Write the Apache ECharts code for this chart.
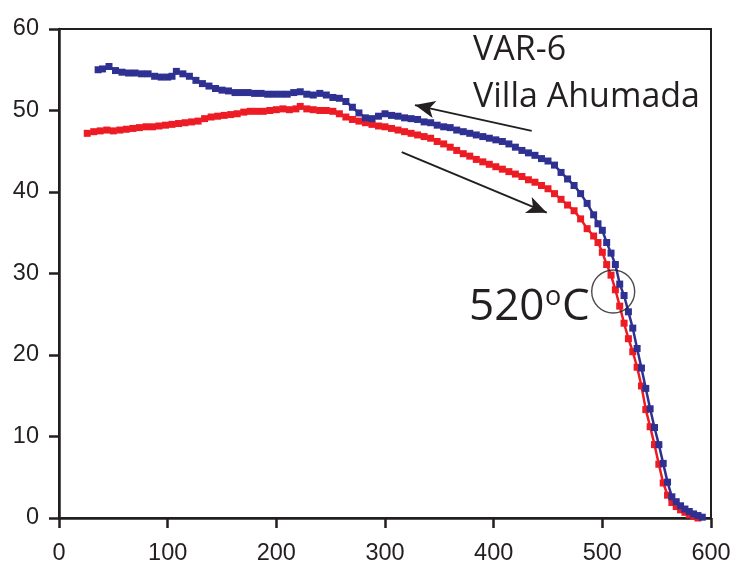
<!DOCTYPE html>
<html>
<head>
<meta charset="utf-8">
<script src="https://cdn.jsdelivr.net/npm/echarts@6/dist/echarts.min.js"></script>
<style>html,body{margin:0;padding:0;background:#fff;}#c{width:738px;height:569px;}</style>
</head>
<body>
<div id="c"></div>
<script>
// Temperature (°C) and magnetisation values
var heatT = [26,32,38,44,50,56,62,68,74,80,86,92,98,104,110,116,122,128,134,140,146,152,158,164,170,176,182,188,194,200,206,212,218,222,228,234,240,246,252,258,264,270,276,282,288,294,300,306,312,318,324,330,336,342,348,354,360,366,372,378,384,390,396,402,408,414,420,426,432,438,444,450,456,462,468,474,480,486,492,496,500,504,508,512,516,520,524,528,532,536,540,544,548,552,556,560,564,568,572,576,580,584,588];
var heatM = [47.2,47.4,47.5,47.6,47.5,47.6,47.7,47.8,47.9,48.0,48.0,48.1,48.2,48.3,48.4,48.5,48.6,48.7,49.0,49.2,49.3,49.4,49.5,49.6,49.8,49.9,49.9,49.9,50.0,50.1,50.2,50.1,50.2,50.5,50.2,50.1,50.0,50.0,49.9,49.6,49.2,48.9,48.7,48.5,48.3,48.1,48.0,47.8,47.6,47.4,47.2,47.0,46.8,46.6,46.2,45.9,45.5,45.1,44.7,44.4,44.0,43.7,43.4,43.1,42.8,42.5,42.2,41.9,41.5,41.2,40.8,40.4,39.8,39.1,38.4,37.7,36.7,35.5,34.6,33.8,32.6,31.1,29.8,28.0,26.0,23.9,22.0,20.4,18.5,16.2,13.3,11.2,9.0,6.6,4.3,2.8,1.9,1.4,1.0,0.7,0.4,0.2,0.0];
var coolT = [36,40,46,52,58,64,70,76,82,88,94,100,104,108,114,120,126,132,138,144,150,156,162,168,174,180,186,192,198,204,210,216,222,228,234,240,246,252,258,264,270,276,282,288,294,300,306,312,318,324,330,336,342,348,354,360,366,372,378,384,390,396,402,408,414,420,426,432,438,444,450,456,462,468,474,480,486,492,496,500,504,508,512,516,520,524,528,532,536,540,544,548,552,556,560,564,568,572,576,580,584,588,592];
var coolM = [55.0,55.1,55.4,54.9,54.7,54.6,54.6,54.5,54.5,54.2,54.1,54.1,54.2,54.8,54.5,54.2,53.7,53.3,53.0,52.7,52.5,52.4,52.2,52.2,52.2,52.1,52.1,52.0,52.0,52.0,52.0,52.2,52.3,52.0,51.9,52.1,51.9,51.6,51.5,51.1,50.4,49.7,49.1,49.0,49.3,49.6,49.4,49.3,49.1,49.0,48.9,48.6,48.5,48.2,48.0,47.9,47.6,47.4,47.2,47.0,46.8,46.6,46.4,46.2,45.9,45.5,45.1,44.8,44.5,44.1,43.8,43.3,42.4,41.6,40.8,39.8,38.6,37.2,36.1,35.3,33.8,32.5,31.1,28.7,27.3,25.3,23.3,20.8,18.4,15.9,13.4,11.1,9.0,6.7,4.4,2.6,2.0,1.5,1.1,0.8,0.5,0.3,0.1];
var xTicks = [0,100,200,300,400,500,600];
var yTicks = [0,10,20,30,40,50,60];
// annotation anchors in data space
var circleAt = [510, 27.8];
var arrowCool = [[435, 47.5],[327.6, 50.66]];
var arrowHeat = [[315.4, 44.9],[448.9, 37.46]];

var ink = '#231f20';
var heat = heatT.map(function(t,i){return [t, heatM[i]];});
var cool = coolT.map(function(t,i){return [t, coolM[i]];});

var chart = echarts.init(document.getElementById('c'), null, {renderer:'canvas'});
chart.setOption({
  animation:false,
  backgroundColor:'#fff',
  grid:{left:59, right:27, top:29, bottom:51, show:true, borderColor:ink, borderWidth:2, backgroundColor:'transparent'},
  xAxis:{type:'value', min:xTicks[0], max:xTicks[xTicks.length-1], interval:100,
    axisLine:{show:true, lineStyle:{color:ink, width:2.5}},
    axisTick:{show:true, inside:false, length:10, lineStyle:{color:ink, width:2.5}},
    axisLabel:{color:ink, fontFamily:'Liberation Sans', fontSize:23.5, margin:24},
    splitLine:{show:false}},
  yAxis:{type:'value', min:yTicks[0], max:yTicks[yTicks.length-1], interval:10,
    axisLine:{show:true, lineStyle:{color:ink, width:2.5}},
    axisTick:{show:true, inside:false, length:10, lineStyle:{color:ink, width:2.5}},
    axisLabel:{color:ink, fontFamily:'Liberation Sans', fontSize:23.5, margin:20},
    splitLine:{show:false}},
  series:[
    {type:'line', name:'heating', data:heat, symbol:'rect', symbolSize:7, showAllSymbol:true,
     lineStyle:{color:'#ed1c24', width:2.5}, itemStyle:{color:'#ed1c24'}, z:2,
     markLine:{silent:true, symbol:['none','arrow'], symbolSize:[13,20], label:{show:false},
       lineStyle:{color:ink, width:2, type:'solid'},
       data:[[{coord:arrowHeat[0]},{coord:arrowHeat[1]}]]}},
    {type:'line', name:'cooling', data:cool, symbol:'rect', symbolSize:7, showAllSymbol:true,
     lineStyle:{color:'#2e3192', width:2.5}, itemStyle:{color:'#2e3192'}, z:3,
     markLine:{silent:true, symbol:['none','arrow'], symbolSize:[13,20], label:{show:false},
       lineStyle:{color:ink, width:2, type:'solid'},
       data:[[{coord:arrowCool[0]},{coord:arrowCool[1]}]]}},
    {type:'scatter', data:[circleAt], symbol:'circle', symbolSize:43, z:4,
     itemStyle:{color:'rgba(0,0,0,0)', borderColor:ink, borderWidth:1.4}}
  ],
  graphic:[
    {type:'text', left:473, top:33, style:{text:'VAR-6', font:'34px "Open Sans"', fill:ink}},
    {type:'text', left:473, top:80, style:{text:'Villa Ahumada', font:'34px "Open Sans"', fill:ink}},
    {type:'text', left:469, top:285, style:{text:'520', font:'44px "Open Sans"', fill:ink}},
    {type:'text', left:545, top:284, style:{text:'o', font:'27px "Open Sans"', fill:ink}},
    {type:'text', left:562, top:285, style:{text:'C', font:'44px "Open Sans"', fill:ink}}
  ]
});
</script>
</body>
</html>
